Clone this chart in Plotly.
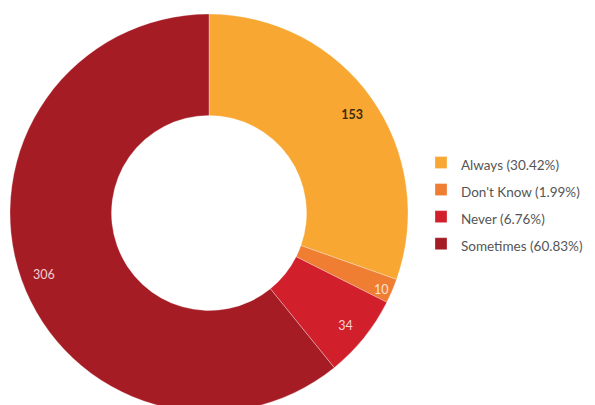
import plotly.graph_objects as go

categories = ["Always", "Don't Know", "Never", "Sometimes"]
values = [153, 10, 34, 306]
colors = ["#F8A733", "#EF7D32", "#D1202B", "#A61C24"]
text_colors = ["#3d2b10", "#fbe3d6", "#f7d3d5", "#f2cfd0"]

total = sum(values)
legend_labels = [
    f"<span style='font-size:13.5px'>{c} ({v / total * 100:.2f}%)</span>"
    for c, v in zip(categories, values)
]
slice_text = [f"<b>{v}</b>" if i == 0 else str(v) for i, v in enumerate(values)]

W, H = 595, 415
dom_x = [10 / W, 408 / W]
dom_y = [(H - 412) / H, (H - 14) / H]
text_dom_y = [(H - 415) / H, (H - 17) / H]

fig = go.Figure()
fig.add_trace(go.Pie(
    labels=legend_labels,
    values=values,
    hole=0.49,
    sort=False,
    direction="clockwise",
    rotation=0,
    marker=dict(colors=colors, line=dict(color="rgba(255,255,255,0.3)", width=1)),
    textinfo="none",
    domain=dict(x=dom_x, y=dom_y),
    hoverinfo="label+value",
))
fig.add_trace(go.Pie(
    labels=legend_labels,
    values=values,
    hole=0.76,
    sort=False,
    direction="clockwise",
    rotation=0,
    marker=dict(colors=["rgba(0,0,0,0)"] * 4, line=dict(width=0)),
    text=slice_text,
    textinfo="text",
    textposition="inside",
    insidetextorientation="horizontal",
    insidetextfont=dict(family="Lato", size=12.5, color=text_colors),
    showlegend=False,
    hoverinfo="skip",
    domain=dict(x=dom_x, y=text_dom_y),
))
fig.update_layout(
    width=W, height=H,
    margin=dict(l=0, r=0, t=0, b=0),
    paper_bgcolor="white",
    plot_bgcolor="white",
    font=dict(family="Lato", color="#555555"),
    legend=dict(
        x=421 / W, y=(H - 144) / H, xanchor="left", yanchor="top",
        font=dict(family="Lato", size=18.5, color="#555555"),
        bgcolor="rgba(0,0,0,0)",
    ),
)
fig.write_html(
    "out.html",
    config={"displayModeBar": False},
    post_script="document.body.style.overflow='hidden';document.body.style.margin='0';",
)
